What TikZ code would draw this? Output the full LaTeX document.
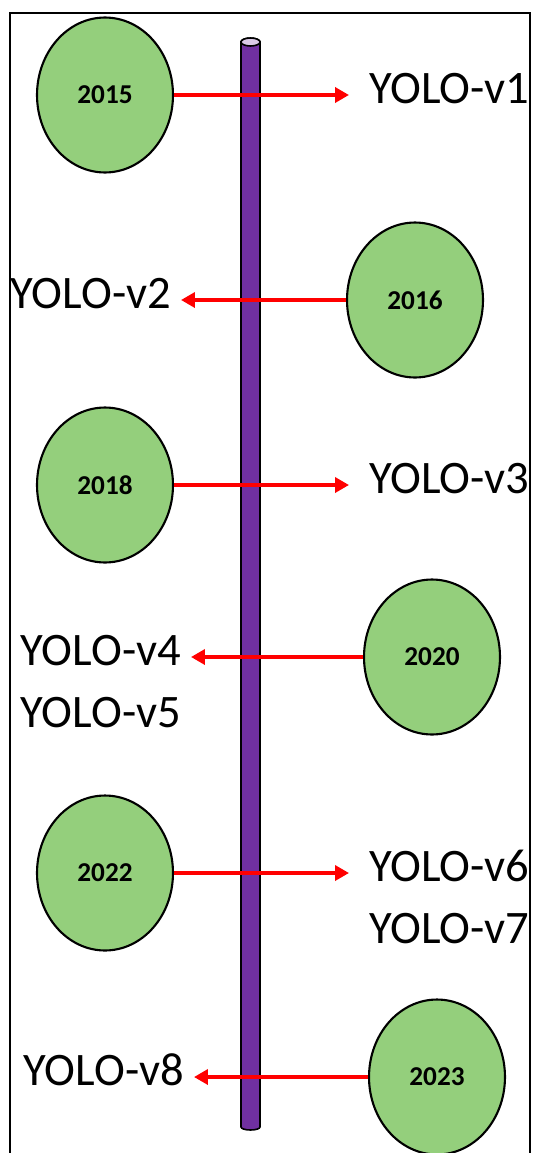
\documentclass[tikz,border=0pt]{standalone}
\usepackage{fontspec}
\setmainfont{Carlito}
\usetikzlibrary{arrows.meta, positioning, shapes.geometric}
\definecolor{yeargreen}{RGB}{148,207,124}
\definecolor{polepurple}{RGB}{112,48,160}
\tikzset{%
  year/.style={draw, ellipse, line width=1.2pt, fill=yeargreen, minimum width=2.72cm,
    minimum height=3.1cm, inner sep=0mm, font=\fontsize{15.5}{18}\selectfont\bfseries},
  release/.style={inner ysep=0pt, inner xsep=0.4cm, text height=19pt, text depth=9.5pt,
    font=\fontsize{26.5}{31}\selectfont},
  lrelease/.style={release, inner xsep=0.2cm},
  link/.style={draw=red, line width=2pt, -{Triangle[length=0.28cm, width=0.3cm]}},
  pole/.style={draw=black, line width=0.9pt, fill=polepurple},
  frame/.style={line width=1.2pt}
}
\begin{document}
\begin{tikzpicture}[x=0.02cm, y=-0.02cm]
  \useasboundingbox (0,0) rectangle (533,1153);
  \draw[frame] (10,1153) -- (10,13) -- (530,13) -- (530,1153);

  % the time line
  \draw[pole] (241,42) -- (241,1127)
    arc[start angle=180, end angle=360, x radius=0.19cm, y radius=0.06cm]
    -- (260,42) arc[start angle=0, end angle=180, x radius=0.19cm, y radius=0.08cm] -- cycle;
  \draw[line width=0.9pt, fill=polepurple!25] (250.5,42) ellipse [x radius=0.19cm, y radius=0.08cm];

  \node[year] (y2015) at (105,95) {2015};
  \node[year] (y2016) at (415,300) {2016};
  \node[year] (y2018) at (105,485) {2018};
  \node[year] (y2020) at (432,657) {2020};
  \node[year] (y2022) at (105,873) {2022};
  \node[year] (y2023) at (437,1077) {2023};

  \node[release, right=3.5cm of y2015] (v1) {YOLO-v1};
  \node[lrelease, left=3.3cm of y2016] (v2) {YOLO-v2};
  \node[release, right=3.5cm of y2018] (v3) {YOLO-v3};
  \node[lrelease, left=3.44cm of y2020] (v4) {YOLO-v4};
  \node[lrelease, below=0.22cm of v4] (v5) {YOLO-v5};
  \node[release, right=3.5cm of y2022] (v6) {YOLO-v6};
  \node[release, below=0.22cm of v6] (v7) {YOLO-v7};
  \node[lrelease, left=3.48cm of y2023] (v8) {YOLO-v8};

  \draw[link] (y2015) -- (v1);
  \draw[link] (y2016) -- (v2);
  \draw[link] (y2018) -- (v3);
  \draw[link] (y2020) -- (v4);
  \draw[link] (y2022) -- (v6);
  \draw[link] (y2023) -- (v8);
\end{tikzpicture}
\end{document}
